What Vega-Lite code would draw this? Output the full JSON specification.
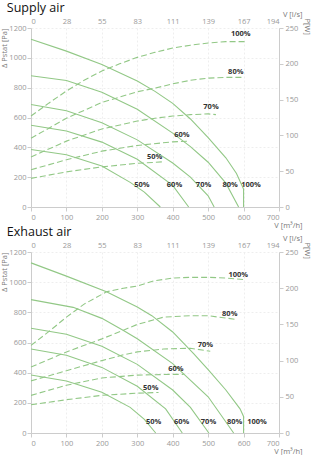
{
  "$schema": "https://vega.github.io/schema/vega-lite/v6.json",
  "padding": {"left": 0, "top": 1, "right": 6, "bottom": 0},
  "spacing": -4,
  "config": {
    "font": "Open Sans",
    "view": {"stroke": null},
    "axis": {"labelFont": "Open Sans", "titleFont": "Open Sans", "labelFontSize": 7.5, "titleFontSize": 7.5, "labelColor": "#999999", "titleColor": "#777777", "titleFontWeight": "normal", "domainColor": "#cccccc", "tickColor": "#cccccc", "tickSize": 4, "gridColor": "#eeeeee", "gridDash": [2, 2]},
    "title": {"font": "Open Sans", "fontSize": 12.5, "fontWeight": "normal", "color": "#111111", "anchor": "start", "frame": "bounds", "offset": -4}
  },
  "datasets": {
    "sp": [
      {"c": "100", "V": 0, "P": 1125}, {"c": "100", "V": 100, "P": 1045}, {"c": "100", "V": 200, "P": 955}, {"c": "100", "V": 300, "P": 845}, {"c": "100", "V": 350, "P": 775}, {"c": "100", "V": 400, "P": 695}, {"c": "100", "V": 450, "P": 590}, {"c": "100", "V": 500, "P": 465}, {"c": "100", "V": 550, "P": 330}, {"c": "100", "V": 580, "P": 225}, {"c": "100", "V": 600, "P": 120}, {"c": "100", "V": 600, "P": 0},
      {"c": "80", "V": 0, "P": 880}, {"c": "80", "V": 100, "P": 848}, {"c": "80", "V": 200, "P": 770}, {"c": "80", "V": 300, "P": 655}, {"c": "80", "V": 400, "P": 495}, {"c": "80", "V": 450, "P": 405}, {"c": "80", "V": 500, "P": 300}, {"c": "80", "V": 550, "P": 160}, {"c": "80", "V": 586, "P": 0},
      {"c": "70", "V": 0, "P": 687}, {"c": "70", "V": 100, "P": 645}, {"c": "70", "V": 200, "P": 565}, {"c": "70", "V": 300, "P": 450}, {"c": "70", "V": 400, "P": 295}, {"c": "70", "V": 450, "P": 200}, {"c": "70", "V": 500, "P": 75}, {"c": "70", "V": 517, "P": 0},
      {"c": "60", "V": 0, "P": 548}, {"c": "60", "V": 100, "P": 510}, {"c": "60", "V": 200, "P": 435}, {"c": "60", "V": 300, "P": 320}, {"c": "60", "V": 400, "P": 145}, {"c": "60", "V": 445, "P": 0},
      {"c": "50", "V": 0, "P": 385}, {"c": "50", "V": 100, "P": 350}, {"c": "50", "V": 200, "P": 275}, {"c": "50", "V": 280, "P": 165}, {"c": "50", "V": 320, "P": 100}, {"c": "50", "V": 365, "P": 0}
    ],
    "sw": [
      {"c": "100", "V": 0, "W": 127}, {"c": "100", "V": 50, "W": 145}, {"c": "100", "V": 100, "W": 162}, {"c": "100", "V": 150, "W": 177}, {"c": "100", "V": 200, "W": 190}, {"c": "100", "V": 250, "W": 200}, {"c": "100", "V": 300, "W": 209}, {"c": "100", "V": 350, "W": 216}, {"c": "100", "V": 400, "W": 222}, {"c": "100", "V": 450, "W": 226}, {"c": "100", "V": 500, "W": 229}, {"c": "100", "V": 550, "W": 231}, {"c": "100", "V": 611, "W": 231},
      {"c": "80", "V": 0, "W": 96}, {"c": "80", "V": 100, "W": 124}, {"c": "80", "V": 200, "W": 146}, {"c": "80", "V": 300, "W": 161}, {"c": "80", "V": 350, "W": 166}, {"c": "80", "V": 400, "W": 172}, {"c": "80", "V": 450, "W": 177}, {"c": "80", "V": 500, "W": 180}, {"c": "80", "V": 550, "W": 181}, {"c": "80", "V": 597, "W": 181},
      {"c": "70", "V": 0, "W": 70}, {"c": "70", "V": 100, "W": 92}, {"c": "70", "V": 200, "W": 109}, {"c": "70", "V": 300, "W": 120}, {"c": "70", "V": 350, "W": 124}, {"c": "70", "V": 400, "W": 127}, {"c": "70", "V": 450, "W": 129}, {"c": "70", "V": 500, "W": 130}, {"c": "70", "V": 522, "W": 129},
      {"c": "60", "V": 0, "W": 52}, {"c": "60", "V": 100, "W": 66}, {"c": "60", "V": 200, "W": 78}, {"c": "60", "V": 300, "W": 86}, {"c": "60", "V": 400, "W": 91}, {"c": "60", "V": 447, "W": 92},
      {"c": "50", "V": 0, "W": 40}, {"c": "50", "V": 100, "W": 49}, {"c": "50", "V": 200, "W": 56}, {"c": "50", "V": 300, "W": 61}, {"c": "50", "V": 370, "W": 63}
    ],
    "spl": [
      {"t": "50%", "V": 313, "P": 150}, {"t": "60%", "V": 405, "P": 150}, {"t": "70%", "V": 487, "P": 150}, {"t": "80%", "V": 562, "P": 150}, {"t": "100%", "V": 621, "P": 150}
    ],
    "swl": [
      {"t": "100%", "V": 592, "W": 242}, {"t": "80%", "V": 578, "W": 189}, {"t": "70%", "V": 508, "W": 139}, {"t": "60%", "V": 426, "W": 100}, {"t": "50%", "V": 349, "W": 70}
    ],
    "ep": [
      {"c": "100", "V": 0, "P": 1128}, {"c": "100", "V": 100, "P": 1040}, {"c": "100", "V": 213, "P": 936}, {"c": "100", "V": 300, "P": 835}, {"c": "100", "V": 341, "P": 778}, {"c": "100", "V": 400, "P": 670}, {"c": "100", "V": 459, "P": 526}, {"c": "100", "V": 500, "P": 420}, {"c": "100", "V": 550, "P": 285}, {"c": "100", "V": 590, "P": 160}, {"c": "100", "V": 600, "P": 110}, {"c": "100", "V": 600, "P": 0},
      {"c": "80", "V": 0, "P": 884}, {"c": "80", "V": 119, "P": 833}, {"c": "80", "V": 200, "P": 760}, {"c": "80", "V": 261, "P": 680}, {"c": "80", "V": 300, "P": 625}, {"c": "80", "V": 400, "P": 460}, {"c": "80", "V": 500, "P": 240}, {"c": "80", "V": 572, "P": 0},
      {"c": "70", "V": 0, "P": 695}, {"c": "70", "V": 100, "P": 655}, {"c": "70", "V": 200, "P": 575}, {"c": "70", "V": 300, "P": 455}, {"c": "70", "V": 400, "P": 285}, {"c": "70", "V": 450, "P": 170}, {"c": "70", "V": 502, "P": 0},
      {"c": "60", "V": 0, "P": 557}, {"c": "60", "V": 100, "P": 515}, {"c": "60", "V": 200, "P": 435}, {"c": "60", "V": 300, "P": 310}, {"c": "60", "V": 380, "P": 160}, {"c": "60", "V": 427, "P": 0},
      {"c": "50", "V": 0, "P": 384}, {"c": "50", "V": 100, "P": 345}, {"c": "50", "V": 200, "P": 270}, {"c": "50", "V": 280, "P": 170}, {"c": "50", "V": 320, "P": 90}, {"c": "50", "V": 352, "P": 0}
    ],
    "ew": [
      {"c": "100", "V": 0, "W": 121}, {"c": "100", "V": 50, "W": 140}, {"c": "100", "V": 100, "W": 160}, {"c": "100", "V": 150, "W": 178}, {"c": "100", "V": 213, "W": 195}, {"c": "100", "V": 261, "W": 200}, {"c": "100", "V": 300, "W": 203}, {"c": "100", "V": 346, "W": 210}, {"c": "100", "V": 400, "W": 214}, {"c": "100", "V": 450, "W": 215}, {"c": "100", "V": 500, "W": 215}, {"c": "100", "V": 550, "W": 214}, {"c": "100", "V": 600, "W": 212},
      {"c": "80", "V": 0, "W": 91}, {"c": "80", "V": 100, "W": 112}, {"c": "80", "V": 200, "W": 130}, {"c": "80", "V": 261, "W": 142}, {"c": "80", "V": 300, "W": 150}, {"c": "80", "V": 374, "W": 160}, {"c": "80", "V": 450, "W": 162}, {"c": "80", "V": 500, "W": 162}, {"c": "80", "V": 577, "W": 157},
      {"c": "70", "V": 0, "W": 72}, {"c": "70", "V": 100, "W": 86}, {"c": "70", "V": 200, "W": 100}, {"c": "70", "V": 261, "W": 108}, {"c": "70", "V": 300, "W": 112}, {"c": "70", "V": 374, "W": 116}, {"c": "70", "V": 450, "W": 117}, {"c": "70", "V": 506, "W": 113},
      {"c": "60", "V": 0, "W": 52}, {"c": "60", "V": 100, "W": 66}, {"c": "60", "V": 200, "W": 76}, {"c": "60", "V": 300, "W": 80}, {"c": "60", "V": 400, "W": 81}, {"c": "60", "V": 431, "W": 81},
      {"c": "50", "V": 0, "W": 39}, {"c": "50", "V": 100, "W": 46}, {"c": "50", "V": 200, "W": 52}, {"c": "50", "V": 300, "W": 55}, {"c": "50", "V": 360, "W": 56}
    ],
    "epl": [
      {"t": "50%", "V": 346, "P": 72}, {"t": "60%", "V": 425, "P": 72}, {"t": "70%", "V": 501, "P": 72}, {"t": "80%", "V": 575, "P": 72}, {"t": "100%", "V": 638, "P": 72}
    ],
    "ewl": [
      {"t": "100%", "V": 585, "W": 218}, {"t": "80%", "V": 561, "W": 165}, {"t": "70%", "V": 492, "W": 122}, {"t": "60%", "V": 409, "W": 88}, {"t": "50%", "V": 338, "W": 62}
    ]
  },
  "vconcat": [
    {
      "title": {"text": "Supply air", "dx": 6},
      "width": 248,
      "height": 179,
      "resolve": {"scale": {"x": "independent", "y": "independent"}},
      "layer": [
        {
          "data": {"name": "sp"},
          "mark": {"type": "line", "color": "#92c886", "strokeWidth": 1.1},
          "encoding": {
            "x": {"field": "V", "type": "quantitative", "scale": {"domain": [0, 700], "nice": false}, "axis": {"title": "V [m³/h]", "values": [0, 100, 200, 300, 400, 500, 600, 700], "grid": true, "titleAnchor": "end", "titleAlign": "right", "titleX": 271, "titlePadding": 1}},
            "y": {"field": "P", "type": "quantitative", "scale": {"domain": [0, 1200], "nice": false}, "axis": {"title": "Δ Pstat [Pa]", "format": "d", "values": [0, 200, 400, 600, 800, 1000, 1200], "grid": true, "titleAnchor": "end", "titlePadding": 0, "labelPadding": 1}},
            "detail": {"field": "c"},
            "order": {"value": null}
          }
        },
        {
          "data": {"name": "sw"},
          "mark": {"type": "line", "color": "#92c886", "strokeWidth": 1.1, "strokeDash": [6, 3]},
          "encoding": {
            "x": {"field": "V", "type": "quantitative", "scale": {"domain": [0, 700], "nice": false}, "axis": {"orient": "top", "title": "V [l/s]", "values": [0, 100, 200, 300, 400, 500, 600, 700], "labelExpr": "['0','28','55','83','111','139','167','194'][round(datum.value/100)]", "domain": false, "ticks": false, "labelPadding": 3, "grid": false, "titleAlign": "right", "titleX": 271, "titleY": -12, "titleBaseline": "alphabetic"}},
            "y": {"field": "W", "type": "quantitative", "scale": {"domain": [0, 250], "nice": false}, "axis": {"orient": "right", "title": "P[W]", "values": [0, 50, 100, 150, 200, 250], "grid": false, "titleAngle": 90, "titleAlign": "left", "titleBaseline": "middle", "titleX": 27, "titleY": -10}},
            "detail": {"field": "c"}
          }
        },
        {
          "data": {"name": "spl"},
          "mark": {"type": "text", "fontSize": 7.5, "fontWeight": "bold", "color": "#333333"},
          "encoding": {
            "x": {"field": "V", "type": "quantitative", "scale": {"domain": [0, 700], "nice": false}, "axis": null},
            "y": {"field": "P", "type": "quantitative", "scale": {"domain": [0, 1200], "nice": false}, "axis": null},
            "text": {"field": "t"}
          }
        },
        {
          "data": {"name": "swl"},
          "mark": {"type": "text", "fontSize": 7.5, "fontWeight": "bold", "color": "#333333"},
          "encoding": {
            "x": {"field": "V", "type": "quantitative", "scale": {"domain": [0, 700], "nice": false}, "axis": null},
            "y": {"field": "W", "type": "quantitative", "scale": {"domain": [0, 250], "nice": false}, "axis": null},
            "text": {"field": "t"}
          }
        }
      ]
    },
    {
      "title": {"text": "Exhaust air", "dx": 6},
      "width": 248,
      "height": 181,
      "resolve": {"scale": {"x": "independent", "y": "independent"}},
      "layer": [
        {
          "data": {"name": "ep"},
          "mark": {"type": "line", "color": "#92c886", "strokeWidth": 1.1},
          "encoding": {
            "x": {"field": "V", "type": "quantitative", "scale": {"domain": [0, 700], "nice": false}, "axis": {"title": "V [m³/h]", "values": [0, 100, 200, 300, 400, 500, 600, 700], "grid": true, "titleAnchor": "end", "titleAlign": "right", "titleX": 271, "titlePadding": 1}},
            "y": {"field": "P", "type": "quantitative", "scale": {"domain": [0, 1200], "nice": false}, "axis": {"title": "Δ Pstat [Pa]", "format": "d", "values": [0, 200, 400, 600, 800, 1000, 1200], "grid": true, "titleAnchor": "end", "titlePadding": 0, "labelPadding": 1}},
            "detail": {"field": "c"},
            "order": {"value": null}
          }
        },
        {
          "data": {"name": "ew"},
          "mark": {"type": "line", "color": "#92c886", "strokeWidth": 1.1, "strokeDash": [6, 3]},
          "encoding": {
            "x": {"field": "V", "type": "quantitative", "scale": {"domain": [0, 700], "nice": false}, "axis": {"orient": "top", "title": "V [l/s]", "values": [0, 100, 200, 300, 400, 500, 600, 700], "labelExpr": "['0','28','55','83','111','139','167','194'][round(datum.value/100)]", "domain": false, "ticks": false, "labelPadding": 3, "grid": false, "titleAlign": "right", "titleX": 271, "titleY": -12, "titleBaseline": "alphabetic"}},
            "y": {"field": "W", "type": "quantitative", "scale": {"domain": [0, 250], "nice": false}, "axis": {"orient": "right", "title": "P[W]", "values": [0, 50, 100, 150, 200, 250], "grid": false, "titleAngle": 90, "titleAlign": "left", "titleBaseline": "middle", "titleX": 27, "titleY": -10}},
            "detail": {"field": "c"}
          }
        },
        {
          "data": {"name": "epl"},
          "mark": {"type": "text", "fontSize": 7.5, "fontWeight": "bold", "color": "#333333"},
          "encoding": {
            "x": {"field": "V", "type": "quantitative", "scale": {"domain": [0, 700], "nice": false}, "axis": null},
            "y": {"field": "P", "type": "quantitative", "scale": {"domain": [0, 1200], "nice": false}, "axis": null},
            "text": {"field": "t"}
          }
        },
        {
          "data": {"name": "ewl"},
          "mark": {"type": "text", "fontSize": 7.5, "fontWeight": "bold", "color": "#333333"},
          "encoding": {
            "x": {"field": "V", "type": "quantitative", "scale": {"domain": [0, 700], "nice": false}, "axis": null},
            "y": {"field": "W", "type": "quantitative", "scale": {"domain": [0, 250], "nice": false}, "axis": null},
            "text": {"field": "t"}
          }
        }
      ]
    }
  ]
}
